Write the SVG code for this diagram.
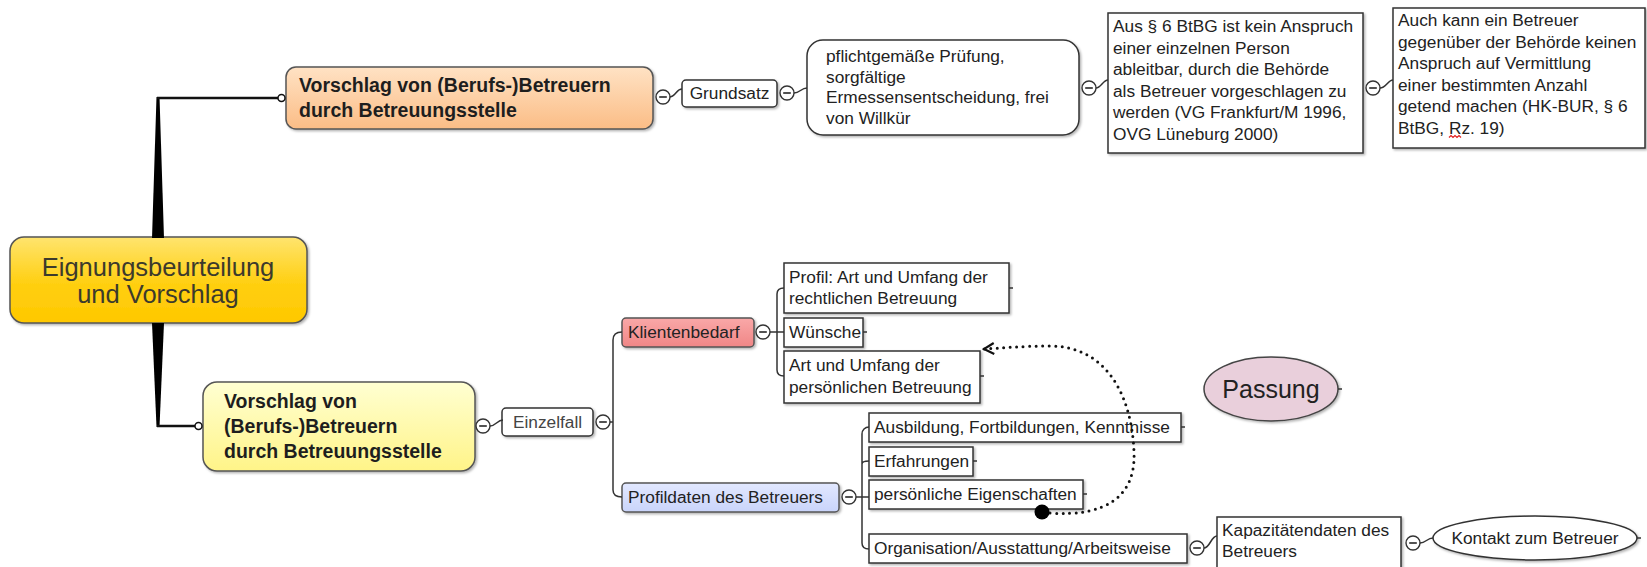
<svg xmlns="http://www.w3.org/2000/svg" width="1647" height="567" viewBox="0 0 1647 567">
<defs>
<linearGradient id="gRoot" x1="0" y1="0" x2="0" y2="1"><stop offset="0" stop-color="#ffe46e"/><stop offset="0.55" stop-color="#ffcf10"/><stop offset="1" stop-color="#ffc800"/></linearGradient>
<linearGradient id="gOr" x1="0" y1="0" x2="0" y2="1"><stop offset="0" stop-color="#ffe2c4"/><stop offset="1" stop-color="#fbbd86"/></linearGradient>
<linearGradient id="gYe" x1="0" y1="0" x2="0" y2="1"><stop offset="0" stop-color="#ffffd2"/><stop offset="1" stop-color="#fff488"/></linearGradient>
<linearGradient id="gRed" x1="0" y1="0" x2="0" y2="1"><stop offset="0" stop-color="#f9a8a8"/><stop offset="1" stop-color="#f08686"/></linearGradient>
<linearGradient id="gBlue" x1="0" y1="0" x2="0" y2="1"><stop offset="0" stop-color="#e2e8ff"/><stop offset="1" stop-color="#c9d4fa"/></linearGradient>
<filter id="sh" x="-10%" y="-10%" width="130%" height="140%"><feDropShadow dx="1.5" dy="1.5" stdDeviation="1" flood-color="#000" flood-opacity="0.3"/></filter>
<marker id="open" viewBox="0 0 14 14" refX="12" refY="7" markerWidth="14" markerHeight="14" markerUnits="userSpaceOnUse" orient="auto"><path d="M2,1.5 L12,7 L2,12.5" fill="none" stroke="#111" stroke-width="2.2"/></marker>
<g id="minus"><circle cx="0" cy="0" r="7" fill="#fff" stroke="#333" stroke-width="1.4"/><line x1="-3.8" y1="0" x2="3.8" y2="0" stroke="#333" stroke-width="1.7"/></g>
</defs>
<style>
text{font-family:"Liberation Sans",Arial,sans-serif;fill:#222}
.t{font-size:17.3px}
.b{font-size:19.5px;font-weight:bold;fill:#1e1e1e}
.box{fill:#fff;stroke:#333;stroke-width:1.5;filter:url(#sh)}
.node{stroke:#555;stroke-width:1.5;filter:url(#sh)}
.c{fill:none;stroke:#333;stroke-width:1.5}
.tick{stroke:#333;stroke-width:1.5}
</style>
<rect width="1647" height="567" fill="#fff"/>

<g id="root">
<rect x="10" y="237" width="297" height="86" rx="14" fill="url(#gRoot)" stroke="#555" stroke-width="1.5" filter="url(#sh)"/>
<text x="158" y="276" text-anchor="middle" style="font-size:25.5px;fill:#3c3a2c">Eignungsbeurteilung</text>
<text x="158" y="303" text-anchor="middle" style="font-size:25.5px;fill:#3c3a2c">und Vorschlag</text>
</g>

<g id="n-orange">
<rect class="node" x="286" y="67" width="367" height="62" rx="10" fill="url(#gOr)"/>
<text class="b" x="299" y="92">Vorschlag von (Berufs-)Betreuern</text>
<text class="b" x="299" y="117">durch Betreuungsstelle</text>
</g>

<g id="n-grundsatz">
<rect class="box" x="682" y="80" width="95" height="27" rx="4"/>
<text class="t" x="729.5" y="99" text-anchor="middle">Grundsatz</text>
</g>

<g id="n-pflicht">
<rect class="box" x="807" y="40" width="272" height="95" rx="16"/>
<text class="t" x="826" y="62">pflichtgemäße Prüfung,</text>
<text class="t" x="826" y="82.5">sorgfältige</text>
<text class="t" x="826" y="103">Ermessensentscheidung, frei</text>
<text class="t" x="826" y="123.5">von Willkür</text>
</g>

<g id="n-aus">
<rect class="box" x="1108" y="13" width="255" height="140"/>
<text class="t" x="1113" y="32">Aus § 6 BtBG ist kein Anspruch</text>
<text class="t" x="1113" y="53.5">einer einzelnen Person</text>
<text class="t" x="1113" y="75">ableitbar, durch die Behörde</text>
<text class="t" x="1113" y="96.5">als Betreuer vorgeschlagen zu</text>
<text class="t" x="1113" y="118">werden (VG Frankfurt/M 1996,</text>
<text class="t" x="1113" y="139.5">OVG Lüneburg 2000)</text>
</g>

<g id="n-auch">
<rect class="box" x="1393" y="8" width="252" height="140"/>
<text class="t" x="1398" y="26">Auch kann ein Betreuer</text>
<text class="t" x="1398" y="47.5">gegenüber der Behörde keinen</text>
<text class="t" x="1398" y="69">Anspruch auf Vermittlung</text>
<text class="t" x="1398" y="90.5">einer bestimmten Anzahl</text>
<text class="t" x="1398" y="112">getend machen (HK-BUR, § 6</text>
<text class="t" x="1398" y="133.5">BtBG, Rz. 19)</text>
<path d="M1449,137.5 l2,-2 l2,2 l2,-2 l2,2 l2,-2 l2,2" fill="none" stroke="#e02020" stroke-width="1.2"/>
</g>

<g id="n-yellow">
<rect class="node" x="203" y="382" width="272" height="89" rx="14" fill="url(#gYe)"/>
<text class="b" x="224" y="408">Vorschlag von</text>
<text class="b" x="224" y="433">(Berufs-)Betreuern</text>
<text class="b" x="224" y="458">durch Betreuungsstelle</text>
</g>

<g id="n-einzelfall">
<rect class="box" x="502" y="408" width="91" height="28" rx="4"/>
<text class="t" x="547.5" y="428" text-anchor="middle" style="fill:#444">Einzelfall</text>
</g>

<g id="n-klient">
<rect class="node" x="622" y="318" width="132" height="29" rx="4" fill="url(#gRed)" stroke="#444"/>
<text class="t" x="628" y="338">Klientenbedarf</text>
</g>

<g id="n-profil">
<rect class="box" x="784" y="263" width="225" height="50"/>
<text class="t" x="789" y="283">Profil: Art und Umfang der</text>
<text class="t" x="789" y="304">rechtlichen Betreuung</text>
</g>

<g id="n-wuensche">
<rect class="box" x="784" y="318" width="79" height="29"/>
<text class="t" x="789" y="338">Wünsche</text>
</g>

<g id="n-art">
<rect class="box" x="784" y="351" width="196" height="52"/>
<text class="t" x="789" y="371">Art und Umfang der</text>
<text class="t" x="789" y="392.5">persönlichen Betreuung</text>
</g>

<g id="n-profildaten">
<rect class="node" x="622" y="483" width="217" height="29" rx="4" fill="url(#gBlue)" stroke="#444"/>
<text class="t" x="628" y="503">Profildaten des Betreuers</text>
</g>

<g id="n-ausbildung">
<rect class="box" x="869" y="413" width="312" height="29"/>
<text class="t" x="874" y="433">Ausbildung, Fortbildungen, Kenntnisse</text>
</g>

<g id="n-erfahrungen">
<rect class="box" x="869" y="447" width="104" height="29"/>
<text class="t" x="874" y="467">Erfahrungen</text>
</g>

<g id="n-eigenschaften">
<rect class="box" x="869" y="480" width="214" height="29"/>
<text class="t" x="874" y="500">persönliche Eigenschaften</text>
</g>

<g id="n-organisation">
<rect class="box" x="869" y="534" width="318" height="29"/>
<text class="t" x="874" y="554">Organisation/Ausstattung/Arbeitsweise</text>
</g>

<g id="n-kapazitaet">
<rect class="box" x="1217" y="517" width="184" height="52"/>
<text class="t" x="1222" y="536">Kapazitätendaten des</text>
<text class="t" x="1222" y="557">Betreuers</text>
</g>

<g id="n-kontakt">
<ellipse cx="1535" cy="538" rx="102" ry="22" fill="#fff" stroke="#333" stroke-width="1.5" filter="url(#sh)"/>
<text class="t" x="1535" y="544" text-anchor="middle">Kontakt zum Betreuer</text>
</g>

<g id="n-passung">
<ellipse cx="1271" cy="389" rx="67" ry="32" fill="#e9cfdb" stroke="#444" stroke-width="1.5" filter="url(#sh)"/>
<text x="1271" y="398" text-anchor="middle" style="font-size:25px">Passung</text>
</g>

<g id="connectors">
<polygon points="152,238 164,238 159.5,97 156.5,97" fill="#000"/>
<line x1="157" y1="98" x2="278" y2="98" stroke="#111" stroke-width="2.5"/>
<circle cx="281.5" cy="98" r="3.5" fill="#fff" stroke="#111" stroke-width="1.5"/>
<polygon points="152,323 164,323 159.5,427 156.5,427" fill="#000"/>
<line x1="157" y1="426" x2="195" y2="426" stroke="#111" stroke-width="2.5"/>
<circle cx="198.5" cy="426" r="3.5" fill="#fff" stroke="#111" stroke-width="1.5"/>
<path class="c" d="M669,97 C676,97 676,89 682,89"/>
<path class="c" d="M794,93 C800,93 801,88 807,88"/>
<path class="c" d="M1096,88 C1101,88 1103,80 1108,80"/>
<path class="c" d="M1380,88 C1386,88 1388,80 1393,80"/>
<path class="c" d="M490,426 C496,426 497,420 503,420"/>
<path class="c" d="M610,422 L613,422 M622,332 C616,332 613,335 613,340 L613,490 C613,495 616,497 622,497"/>
<path class="c" d="M770,332 L784,332 M784,288 C780,288 777,290 777,294 L777,370 C777,374 780,376 784,376"/>
<path class="c" d="M856,497 L869,497 M869,427 C865,427 862,430 862,434 L862,543 C862,547 865,549 869,549 M862,464 C862,462 865,461 869,461"/>
<path class="c" d="M1204,548 C1210,548 1211,536 1217,536"/>
<path class="c" d="M1420,543 C1426,543 1427,538 1433,538"/>
<line class="tick" x1="1009" y1="288" x2="1013" y2="288"/>
<line class="tick" x1="863" y1="332" x2="867" y2="332"/>
<line class="tick" x1="980" y1="376" x2="984" y2="376"/>
<line class="tick" x1="1181" y1="427" x2="1185" y2="427"/>
<line class="tick" x1="973" y1="461" x2="977" y2="461"/>
<line class="tick" x1="1083" y1="494" x2="1087" y2="494"/>
<line class="tick" x1="1338" y1="389" x2="1342" y2="389"/>
<line class="tick" x1="1637" y1="538" x2="1641" y2="538"/>
<use href="#minus" x="663" y="97"/>
<use href="#minus" x="787" y="93"/>
<use href="#minus" x="1089" y="88"/>
<use href="#minus" x="1373" y="88"/>
<use href="#minus" x="483" y="426"/>
<use href="#minus" x="603" y="422"/>
<use href="#minus" x="763" y="332"/>
<use href="#minus" x="849" y="497"/>
<use href="#minus" x="1197" y="548"/>
<use href="#minus" x="1413" y="543"/>
<path d="M1050,513 C1105,517 1136,497 1134,452 C1132,398 1108,346 1050,346 C1022,346 1003,348 984,349" fill="none" stroke="#111" stroke-width="3" stroke-dasharray="0 6.5" stroke-linecap="round" marker-end="url(#open)"/>
<circle cx="1042" cy="512" r="7.5" fill="#000"/>
</g>
</svg>
